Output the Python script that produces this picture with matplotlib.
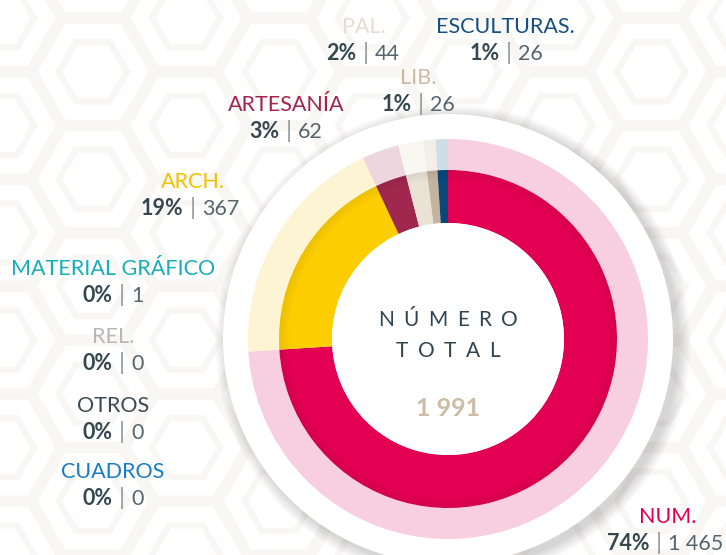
import numpy as np
import matplotlib
matplotlib.use("Agg")
import matplotlib.pyplot as plt
from matplotlib.patches import Circle, Wedge

plt.rcParams['font.family'] = ['Lato', 'DejaVu Sans']

# ---------------- data ----------------
categories = ["NUM.", "ARCH.", "ARTESANÍA", "PAL.", "LIB.", "ESCULTURAS.",
              "MATERIAL GRÁFICO", "REL.", "OTROS", "CUADROS"]
percents = [74, 19, 3, 2, 1, 1, 0, 0, 0, 0]
counts = ["1 465", "367", "62", "44", "26", "26", "1", "0", "0", "0"]
total_label = "1 991"
inner_colors = ["#e30052", "#fccd00", "#a0284f", "#e9e2d5", "#c4b39d", "#0b4778",
                "#17afb8", "#b5b5b5", "#3d4a52", "#1a7dc4"]
outer_colors = ["#f8cfdf", "#fdf4d3", "#eed6df", "#f9f7f2", "#f2eee8", "#cfdde6",
                "#d0eef0", "#eeeeee", "#dddddd", "#d1e5f3"]
label_colors = ["#e30052", "#f2c200", "#a3254f", "#e6ddd0", "#cbb9a3", "#174f82",
                "#17afb8", "#b7b7b7", "#3d4a52", "#1a7dc4"]
# label anchor positions in pixels (x center, baseline of name line)
label_pos = [(668, 523), (193, 188), (286, 111), (364, 33), (418, 84), (505, 33),
             (113, 275), (113, 343), (113, 412), (113, 478)]
stat_dx = [6, -3, 0, -1, 0, 1, 0, 0, 0, 0]

W, H = 726, 555
fig = plt.figure(figsize=(W / 100, H / 100), dpi=100)
ax = fig.add_axes([0, 0, 1, 1])
ax.set_xlim(0, W)
ax.set_ylim(0, H)
ax.set_aspect('equal')
ax.axis('off')

# ---------------- faint background pattern ----------------
pat = "#f8f7f4"
s = 62
for i in range(-2, 14):
    for j in range(-2, 12):
        x0 = i * s * 1.5
        y0 = j * s * np.sqrt(3) + (i % 2) * s * np.sqrt(3) / 2
        ang = np.linspace(0, 2 * np.pi, 7)
        for k in (0.55, 0.95):
            ax.plot(x0 + k * s * np.cos(ang), y0 + k * s * np.sin(ang),
                    color=pat, lw=4.5, zorder=0, solid_joinstyle='miter')

# ---------------- donut ----------------
cx, cy = 448, H - 339
R_out, R_mid, R_in = 200, 169, 116

# white disc with soft shadow
for k in range(14):
    ax.add_patch(Circle((cx + 5, cy - 4), 226 + k * 0.9, color='black',
                        alpha=0.012, lw=0, zorder=1))
ax.add_patch(Circle((cx, cy), 225, color='white', lw=0, zorder=2))

w1, _ = ax.pie(percents, radius=R_out, center=(cx, cy), startangle=90,
               counterclock=False, colors=outer_colors,
               wedgeprops=dict(width=R_out - R_mid, lw=0, zorder=3))
w2, _ = ax.pie(percents, radius=R_mid, center=(cx, cy), startangle=90,
               counterclock=False, colors=inner_colors,
               wedgeprops=dict(width=R_mid - R_in, lw=0, zorder=4))
# subtle shading at outer edge of inner ring
for k in range(10):
    ax.add_patch(Wedge((cx, cy), R_mid - k, 0, 360, width=1.0, color='black',
                       alpha=0.012 * (10 - k) / 2, lw=0, zorder=5))
ax.add_patch(Circle((cx, cy), R_in, color='white', lw=0, zorder=6))

ax.set_xlim(0, W)
ax.set_ylim(0, H)

fig.canvas.draw()
renderer = fig.canvas.get_renderer()

def width_of(t):
    return t.get_window_extent(renderer).width

def spaced(text, xc, yb, gap, **kw):
    ts = [ax.text(0, yb, ch, ha='left', va='baseline', zorder=8, **kw) for ch in text]
    ws = [width_of(t) for t in ts]
    total = sum(ws) + gap * (len(ts) - 1)
    x = xc - total / 2
    for t, w in zip(ts, ws):
        t.set_x(x)
        x += w + gap

# center text
spaced("NÚMERO", cx, H - 326, 9.5, fontsize=15, color='#2f4550')
spaced("TOTAL", cx, H - 357, 9.5, fontsize=15, color='#2f4550')
ax.text(cx, H - 416, total_label, ha='center', va='baseline', fontsize=18,
        fontweight='bold', color='#cdbca6', zorder=8)

# labels
fs = 15.5
dark = '#34474f'
for name, p, c, col, (lx, ly), dx in zip(categories, percents, counts,
                                         label_colors, label_pos, stat_dx):
    ax.text(lx, H - ly, name, ha='center', va='baseline', fontsize=fs,
            color=col, zorder=8)
    yb = H - ly - 27
    parts = [ax.text(0, yb, f"{p}%", ha='left', va='baseline', fontsize=fs,
                     fontweight='bold', color=dark, zorder=8),
             ax.text(0, yb, "|", ha='left', va='baseline', fontsize=fs + 2,
                     color='#8d979d', zorder=8),
             ax.text(0, yb, c, ha='left', va='baseline', fontsize=fs,
                     color='#56656d', zorder=8)]
    ws = [width_of(t) for t in parts]
    gap = 6
    total = sum(ws) + 2 * gap
    x = lx + dx - total / 2
    if x + total > W - 3:
        x = W - 3 - total
    for t, w in zip(parts, ws):
        t.set_x(x)
        x += w + gap

fig.savefig("out.png", dpi=100)
